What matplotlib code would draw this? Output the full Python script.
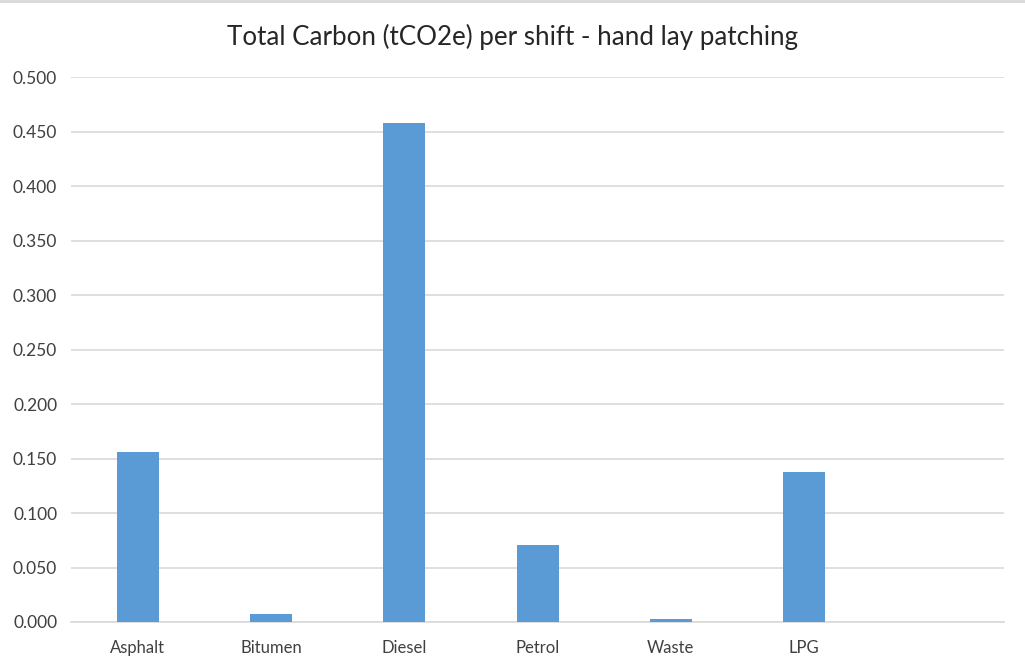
import numpy as np
import matplotlib
matplotlib.use('Agg')
import matplotlib.pyplot as plt
from matplotlib.lines import Line2D

# total carbon per shift by source, tCO2e
categories = ['Asphalt', 'Bitumen', 'Diesel', 'Petrol', 'Waste', 'LPG', '']
carbon = [0.156, 0.007, 0.458, 0.071, 0.0025, 0.138, 0.0]
yticks = [0.0, 0.05, 0.10, 0.15, 0.20, 0.25, 0.30, 0.35, 0.40, 0.45, 0.50]

plt.rcParams['font.family'] = ['Lato', 'DejaVu Sans']

fig = plt.figure(figsize=(10.25, 6.68), dpi=100)
ax = fig.add_axes([0.0693, 0.0689, 0.9102, 0.8154])

x = np.arange(len(categories))
ax.bar(x, carbon, width=0.315, color='#5B9BD5', zorder=3)

ax.set_xlim(-0.5, len(categories) - 0.5)
ax.set_ylim(0, 0.5)
ax.set_yticks(yticks)
ax.set_yticklabels(['{:.3f}'.format(v) for v in yticks])
ax.set_xticks(x)
ax.set_xticklabels(categories)

ax.grid(axis='y', color='#D9D9D9', linewidth=1.2, zorder=0)
for s in ['top', 'right', 'left']:
    ax.spines[s].set_visible(False)
ax.spines['bottom'].set_color('#D9D9D9')
ax.spines['bottom'].set_linewidth(1.2)
ax.tick_params(axis='both', length=0, colors='#404040')
ax.tick_params(axis='y', pad=10, labelsize=12.5)
ax.tick_params(axis='x', pad=13, labelsize=12)

fig.text(0.5, 0.944, 'Total Carbon (tCO2e) per shift - hand lay patching',
         ha='center', va='center', fontsize=18.7, color='#262626')

# thin frame line across the top edge
fig.add_artist(Line2D([0, 1], [0.999, 0.999], transform=fig.transFigure,
                      color='#D9D9D9', linewidth=2))

fig.savefig('out.png', dpi=100, facecolor='white')
